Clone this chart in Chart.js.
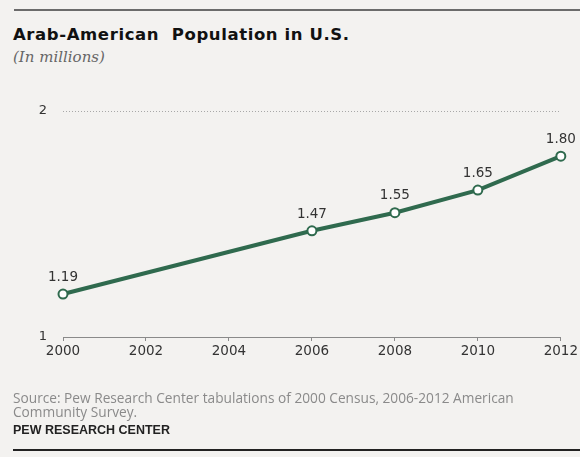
<!DOCTYPE html>
<html>
<head>
<meta charset="utf-8">
<script src="https://cdn.jsdelivr.net/npm/chart.js@4/dist/chart.umd.min.js"></script>
<style>
  html, body { margin: 0; padding: 0; background: #f3f2f0; }
  #wrap { position: relative; width: 580px; height: 457px; overflow: hidden; }
  #eloChart { position: absolute; left: 0; top: 0; }
  .rule { position: absolute; left: 14px; right: 0; }
  #title { position: absolute; left: 13px; top: 25px; font: bold 16.5px "DejaVu Sans", sans-serif; letter-spacing: 0.6px; color: #111; white-space: pre; }
  #sub { position: absolute; left: 13px; top: 48px; font: italic 15px "DejaVu Serif", serif; color: #666; }
  #source { position: absolute; left: 13px; top: 391px; font: 13.7px "Open Sans", sans-serif; color: #8a8a8a; line-height: 14px; }
  #pew { position: absolute; left: 13px; top: 423px; font: bold 12.5px "Liberation Sans", Arial, sans-serif; color: #222; }
</style>
</head>
<body>
<div id="wrap">
  <div class="rule" style="top:9px;height:2px;background:#6b6b6b"></div>
  <div id="title">Arab-American  Population in U.S.</div>
  <div id="sub">(In millions)</div>
  <canvas id="eloChart" width="580" height="457"></canvas>
  <div id="source">Source: Pew Research Center tabulations of 2000 Census, 2006-2012 American<br>Community Survey.</div>
  <div id="pew">PEW RESEARCH CENTER</div>
  <div class="rule" style="top:449px;height:2px;background:#222;left:13px"></div>
</div>
<script>
// Werte aus der Grafik
const years = [2000, 2006, 2008, 2010, 2012];
const population = [1.19, 1.47, 1.55, 1.65, 1.80];
const xTicks = [2000, 2002, 2004, 2006, 2008, 2010, 2012];
const yTicks = [1, 2];

const green = "#2f6a4e";

// Zahlen über die Punkte schreiben
const pointLabels = {
    id: "pointLabels",
    afterDatasetsDraw(chart) {
        const c = chart.ctx;
        const meta = chart.getDatasetMeta(0);
        c.save();
        c.font = "13.5px 'DejaVu Sans'";
        c.fillStyle = "#333";
        c.textAlign = "center";
        c.textBaseline = "bottom";
        meta.data.forEach((pt, i) => {
            c.fillText(population[i].toFixed(2), pt.x, pt.y - 10);
        });
        c.restore();
    }
};

new Chart(document.getElementById("eloChart"), {
    type: "line",
    data: {
        datasets: [{
            label: "Arab-American population",
            data: years.map((y, i) => ({ x: y, y: population[i] })),
            borderColor: green,
            backgroundColor: "#ffffff",
            borderWidth: 4,
            pointRadius: 4.5,
            pointBorderWidth: 2,
            pointBorderColor: green,
            pointBackgroundColor: "#ffffff",
            tension: 0,
            clip: false
        }]
    },
    options: {
        responsive: false,
        animation: false,
        layout: { padding: { left: 22, right: 16, top: 111, bottom: 88 } },
        plugins: { legend: { display: false }, tooltip: { enabled: false } },
        scales: {
            x: {
                type: "linear",
                min: 2000,
                max: 2012,
                afterBuildTicks: s => { s.ticks = xTicks.map(v => ({ value: v })); },
                afterFit: s => { s.height = 32; },
                border: { display: true, color: "#8a8a8a", width: 1 },
                grid: { drawOnChartArea: false, tickLength: 4, color: "#8a8a8a" },
                ticks: {
                    padding: 2,
                    color: "#333",
                    font: { family: "DejaVu Sans", size: 13.5 },
                    callback: v => String(v)
                }
            },
            y: {
                min: 1,
                max: 2,
                afterBuildTicks: s => { s.ticks = yTicks.map(v => ({ value: v })); },
                afterFit: s => { s.width = 41; },
                border: { display: false, dash: [1, 2] },
                grid: {
                    drawTicks: false,
                    color: ctx => ctx.tick && ctx.tick.value === 2 ? "#a8a8a8" : "rgba(0,0,0,0)",
                    lineWidth: 1
                },
                ticks: {
                    padding: 16,
                    color: "#333",
                    font: { family: "DejaVu Sans", size: 13 }
                }
            }
        }
    },
    plugins: [pointLabels]
});
</script>
</body>
</html>
